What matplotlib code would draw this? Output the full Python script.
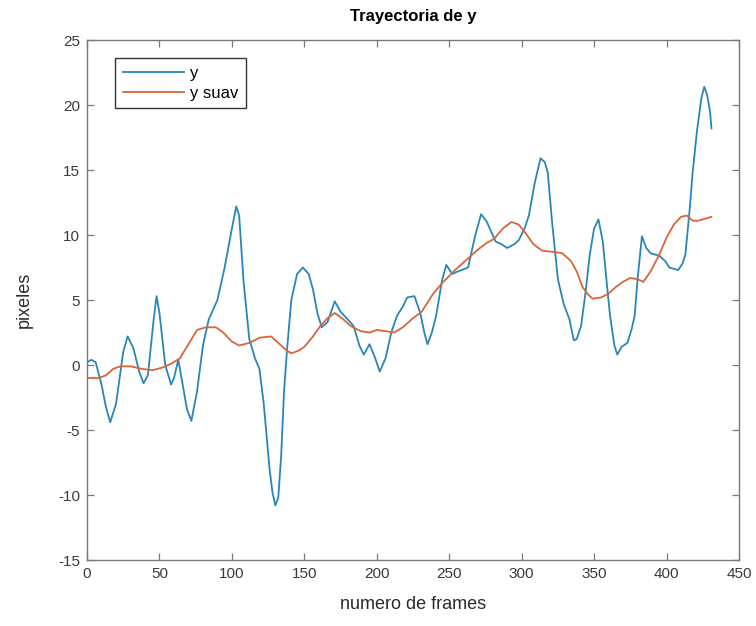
import matplotlib

matplotlib.use("Agg")
import matplotlib.pyplot as plt

plt.rcParams["font.family"] = ["Liberation Sans", "DejaVu Sans"]
plt.rcParams["axes.unicode_minus"] = False

# trayectoria original (frame, pixeles)
frames_y = [0, 3, 6, 10, 13, 16, 20, 25, 28, 32, 36, 39, 42, 46, 48, 50, 54, 58, 60, 63, 66,
            69, 72, 76, 80, 84, 90, 95, 100, 103, 105, 108, 112, 116, 119, 122, 126, 128, 130,
            132, 134, 136, 138, 141, 145, 149, 153, 156, 159, 162, 166, 171, 175, 180, 184,
            188, 191, 195, 199, 202, 206, 210, 214, 218, 221, 226, 230, 233, 235, 238, 241,
            245, 248, 252, 256, 263, 268, 272, 276, 282, 286, 290, 295, 298, 302, 305, 309,
            313, 316, 318, 321, 325, 329, 333, 336, 338, 341, 344, 347, 350, 353, 356, 359,
            361, 364, 366, 369, 373, 376, 378, 380, 383, 386, 389, 395, 399, 402, 408, 411,
            413, 416, 418, 421, 424, 426, 428, 430, 431]
y = [0.2, 0.4, 0.2, -1.5, -3.2, -4.4, -3.0, 1.0, 2.2, 1.3, -0.5, -1.4, -0.8, 3.5, 5.3, 4.0,
     0.0, -1.5, -1.0, 0.4, -1.5, -3.4, -4.3, -2.0, 1.5, 3.5, 5.0, 7.5, 10.5, 12.2, 11.5, 6.5,
     2.0, 0.5, -0.3, -3.0, -8.0, -9.8, -10.8, -10.2, -7.0, -2.0, 1.1, 5.0, 7.0, 7.5, 7.0,
     5.8, 4.0, 2.9, 3.3, 4.9, 4.1, 3.5, 3.0, 1.5, 0.8, 1.6, 0.5, -0.5, 0.5, 2.5, 3.8, 4.5,
     5.2, 5.3, 4.0, 2.4, 1.6, 2.5, 3.8, 6.5, 7.7, 7.0, 7.2, 7.5, 10.0, 11.6, 11.0, 9.5, 9.3,
     9.0, 9.3, 9.6, 10.5, 11.5, 14.0, 15.9, 15.6, 14.8, 11.0, 6.6, 4.7, 3.5, 1.9, 2.0, 3.0,
     5.5, 8.5, 10.5, 11.2, 9.5, 6.0, 3.8, 1.5, 0.8, 1.4, 1.7, 2.8, 3.8, 6.6, 9.9, 9.0, 8.6,
     8.4, 8.0, 7.5, 7.3, 7.8, 8.5, 12.0, 14.8, 18.0, 20.5, 21.4, 20.8, 19.5, 18.2]

# trayectoria suavizada
frames_s = [0, 8, 13, 18, 23, 30, 38, 45, 52, 58, 64, 70, 76, 82, 89, 94, 100, 105, 112,
            119, 127, 133, 138, 141, 146, 150, 156, 161, 166, 171, 176, 182, 189, 195, 200,
            206, 212, 218, 225, 231, 239, 246, 254, 262, 270, 276, 281, 287, 293, 298, 303,
            308, 314, 322, 328, 334, 338, 342, 346, 349, 355, 360, 365, 370, 375, 380, 384,
            389, 395, 400, 405, 410, 414, 418, 422, 425, 428, 431]
y_suav = [-1.0, -1.0, -0.8, -0.3, -0.1, -0.1, -0.3, -0.4, -0.2, 0.1, 0.5, 1.6, 2.7, 2.9,
          2.9, 2.5, 1.8, 1.5, 1.7, 2.1, 2.2, 1.6, 1.1, 0.9, 1.1, 1.4, 2.2, 3.0, 3.6, 4.0,
          3.6, 3.0, 2.6, 2.5, 2.7, 2.6, 2.5, 2.9, 3.6, 4.1, 5.5, 6.4, 7.3, 8.1, 8.9, 9.4,
          9.7, 10.5, 11.0, 10.8, 10.1, 9.3, 8.8, 8.7, 8.6, 8.0, 7.2, 6.0, 5.4, 5.1, 5.2,
          5.5, 6.0, 6.4, 6.7, 6.6, 6.4, 7.2, 8.5, 9.8, 10.8, 11.4, 11.5, 11.1, 11.1, 11.2,
          11.3, 11.4]

x_ticks = [0, 50, 100, 150, 200, 250, 300, 350, 400, 450]
y_ticks = [-15, -10, -5, 0, 5, 10, 15, 20, 25]

fig = plt.figure(figsize=(7.56, 6.26), dpi=100)
ax = fig.add_axes([0.1151, 0.1054, 0.8624, 0.8307])

ax.plot(frames_y, y, color="#2a86b8", lw=1.3, label="y", solid_joinstyle="round")
ax.plot(frames_s, y_suav, color="#d9653a", lw=1.3, label="y suav", solid_joinstyle="round")

ax.set_xlim(0, 450)
ax.set_ylim(-15, 25)
ax.set_xticks(x_ticks)
ax.set_yticks(y_ticks)

axis_gray = "#7a7a7a"
for spine in ax.spines.values():
    spine.set_color(axis_gray)
    spine.set_linewidth(1.0)
ax.tick_params(direction="in", length=5, width=0.9, color=axis_gray,
               top=True, right=True, labelsize=11, labelcolor="#3a3a3a", pad=5)

ax.set_xlabel("numero de frames", fontsize=13, color="#2a2a2a", labelpad=11)
ax.set_ylabel("pixeles", fontsize=13, color="#2a2a2a", labelpad=18)
ax.set_title("Trayectoria de y", fontsize=12, fontweight="bold", pad=14)

leg = ax.legend(loc="upper left", bbox_to_anchor=(0.043, 0.965), borderaxespad=0,
                fontsize=12, handlelength=3.7, fancybox=False, framealpha=1,
                borderpad=0.45, labelspacing=0.3, handletextpad=0.35)
leg.get_frame().set_edgecolor("#333333")
leg.get_frame().set_linewidth(1.0)

fig.savefig("out.png", dpi=100)
